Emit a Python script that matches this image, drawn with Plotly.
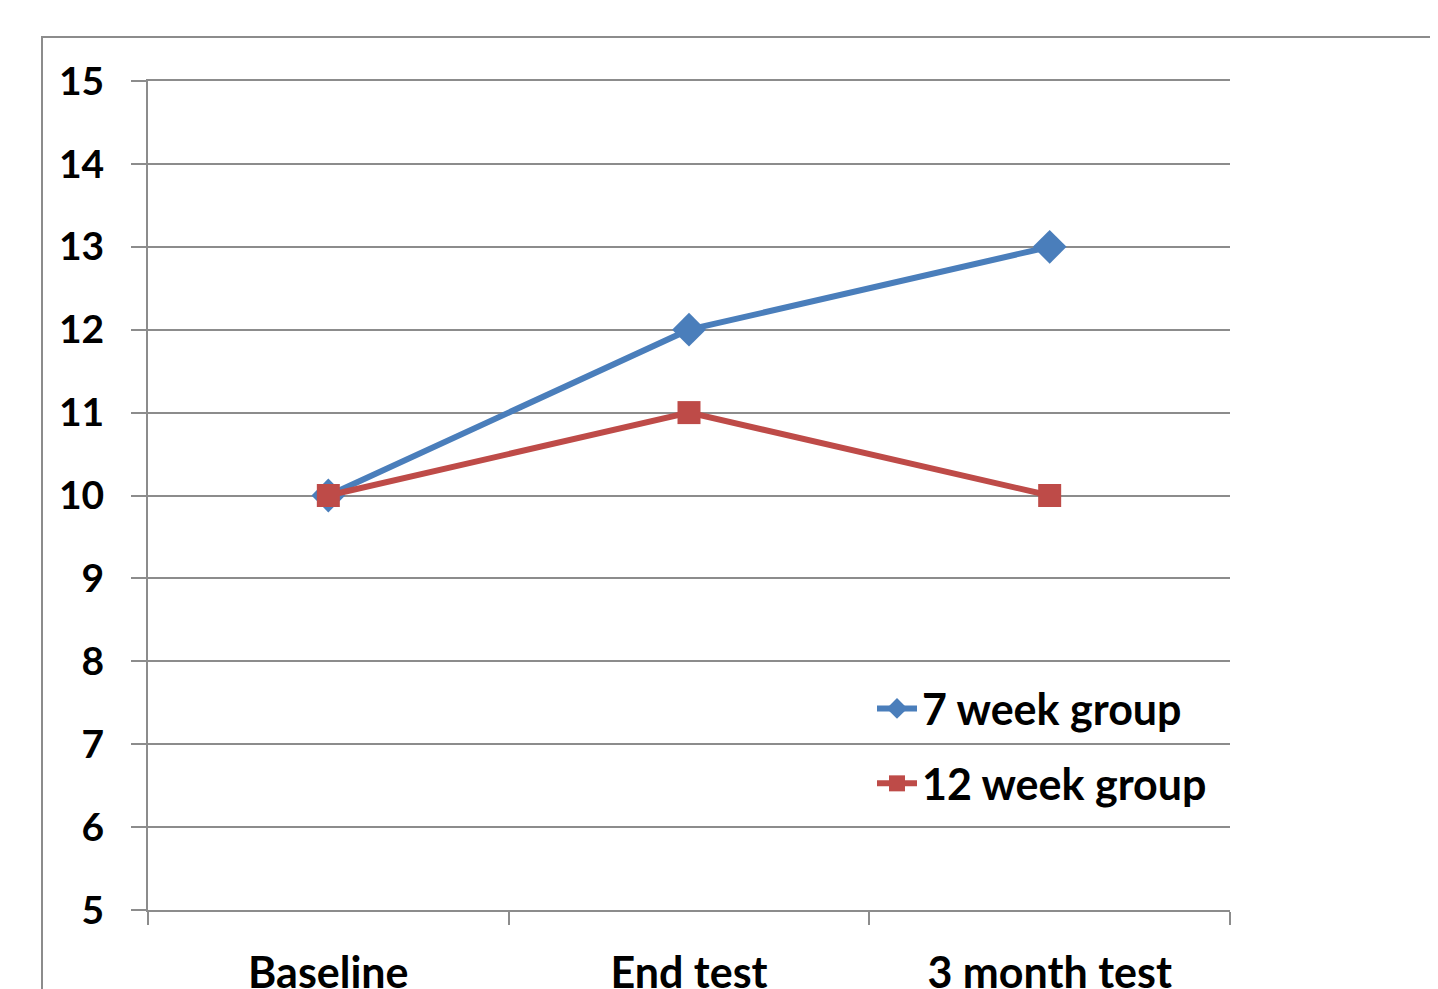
import plotly.graph_objects as go

categories = ["Baseline", "End test", "3 month test"]
group7 = [10, 12, 13]
group12 = [10, 11, 10]
series_names = ["7 week group", "12 week group"]

GRID = "#8c8c8c"
FONT = "Lato"
OFF = 8  # page body margin

fig = go.Figure()
fig.add_trace(go.Scatter(
    x=categories, y=group7, name=series_names[0], mode="lines+markers",
    line=dict(color="#4A7EBB", width=6),
    marker=dict(symbol="diamond", size=26, color="#4A7EBB"),
    legendgroup="a",
))
fig.add_trace(go.Scatter(
    x=categories, y=group12, name=series_names[1], mode="lines+markers",
    line=dict(color="#BE4B48", width=6),
    marker=dict(symbol="square", size=23, color="#BE4B48"),
    legendgroup="b",
))

W, H = 1438 - OFF, 989 - OFF
L, R, T, B = 148 - OFF, 1230 - OFF, 81 - OFF, 910 - OFF
pw, ph = R - L, B - T

fig.update_layout(
    template="none",
    width=W, height=H,
    margin=dict(l=L, r=W - R, t=T, b=H - B, pad=0, autoexpand=False),
    paper_bgcolor="white", plot_bgcolor="white",
    font=dict(family=FONT, size=43, color="black"),
    showlegend=True,
    legend=dict(
        x=(872 - OFF - L) / pw, y=(B - (674 - OFF)) / ph, xanchor="left", yanchor="top",
        bgcolor="rgba(0,0,0,0)", borderwidth=0,
        font=dict(family=FONT, size=43, color="black", weight="bold"),
        tracegroupgap=16, itemwidth=40,
    ),
    shapes=[dict(
        type="rect", xref="paper", yref="paper",
        x0=(42 - OFF - L) / pw, x1=(1460 - L) / pw,
        y0=(B - 1010) / ph, y1=(B - (37 - OFF)) / ph,
        line=dict(color=GRID, width=2), fillcolor="rgba(0,0,0,0)", layer="below",
    )],
)

fig.update_xaxes(
    type="category", range=[-0.5, 2.5], automargin=False,
    showgrid=False, showline=True, mirror=True, linecolor=GRID, linewidth=2,
    ticks="outside", tickson="boundaries", ticklen=13, tickwidth=2, tickcolor=GRID,
    tickfont=dict(family=FONT, size=43, color="black", weight="bold"),
    ticklabelstandoff=24,
)
fig.update_yaxes(
    range=[5, 15], dtick=1, tick0=5, automargin=False,
    showgrid=True, gridcolor=GRID, gridwidth=2,
    showline=True, linecolor=GRID, linewidth=2,
    ticks="outside", ticklen=15, tickwidth=2, tickcolor=GRID,
    tickfont=dict(family=FONT, size=39, color="black", weight="bold"),
    ticklabelstandoff=19, zeroline=False,
)

fig.write_html("out.html")
